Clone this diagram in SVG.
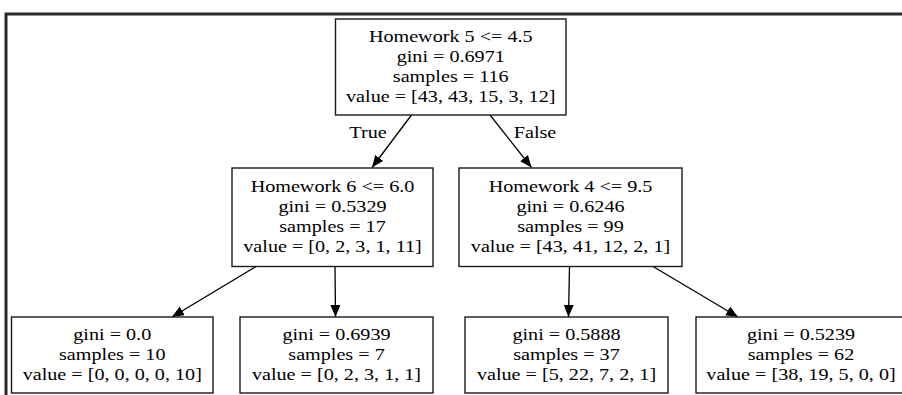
<svg xmlns="http://www.w3.org/2000/svg" width="902" height="395" viewBox="0 0 902 395">
<style>
  .frame { stroke: #2a2a2a; stroke-width: 3; fill: none; }
  .box { fill: #ffffff; stroke: #1a1a1a; stroke-width: 1.4; }
  .lbl { font-family: "Liberation Serif", "Times New Roman", serif; font-size: 16.8px; fill: #000; text-anchor: middle; }
  .edge { stroke: #000; stroke-width: 1.3; fill: none; marker-end: url(#ah); }
</style>
<defs>
  <marker id="ah" markerUnits="userSpaceOnUse" markerWidth="13" markerHeight="11" refX="12" refY="5" orient="auto">
    <path d="M0,0 L12,5 L0,10 z" fill="#000"/>
  </marker>
</defs>
<rect x="0" y="0" width="902" height="395" fill="#ffffff"/>
<path class="frame" d="M6,395 L6,14 L902,14"/>

<g id="connectors">
  <line class="edge" x1="411.5" y1="115" x2="372" y2="167.5"/>
  <line class="edge" x1="490" y1="115" x2="531.5" y2="167.5"/>
  <line class="edge" x1="256" y1="266.5" x2="172" y2="317"/>
  <line class="edge" x1="335" y1="266.5" x2="335.5" y2="317"/>
  <line class="edge" x1="569.5" y1="266.5" x2="568.5" y2="317"/>
  <line class="edge" x1="653" y1="266.5" x2="738" y2="317"/>
  <g class="lbl">
    <text transform="translate(368 138) scale(1.2 1)">True</text>
    <text transform="translate(535 138) scale(1.2 1)">False</text>
  </g>
</g>

<g id="node0">
  <rect class="box" x="335.5" y="19" width="230.5" height="96"/>
  <g class="lbl" transform="translate(450.75 0) scale(1.2 1)">
    <text x="0" y="42.5">Homework 5 &lt;= 4.5</text>
    <text x="0" y="62.5">gini = 0.6971</text>
    <text x="0" y="82.5">samples = 116</text>
    <text x="0" y="102.5">value = [43, 43, 15, 3, 12]</text>
  </g>
</g>

<g id="node1">
  <rect class="box" x="232" y="168" width="201" height="98.5"/>
  <g class="lbl" transform="translate(332.5 0) scale(1.2 1)">
    <text x="0" y="192.5">Homework 6 &lt;= 6.0</text>
    <text x="0" y="212.5">gini = 0.5329</text>
    <text x="0" y="232.5">samples = 17</text>
    <text x="0" y="252.5">value = [0, 2, 3, 1, 11]</text>
  </g>
</g>

<g id="node4">
  <rect class="box" x="459" y="168" width="223" height="98.5"/>
  <g class="lbl" transform="translate(570.5 0) scale(1.2 1)">
    <text x="0" y="192.5">Homework 4 &lt;= 9.5</text>
    <text x="0" y="212.5">gini = 0.6246</text>
    <text x="0" y="232.5">samples = 99</text>
    <text x="0" y="252.5">value = [43, 41, 12, 2, 1]</text>
  </g>
</g>

<g id="node2">
  <rect class="box" x="11.5" y="317" width="201.5" height="76"/>
  <g class="lbl" transform="translate(112.25 0) scale(1.2 1)">
    <text x="0" y="340.5">gini = 0.0</text>
    <text x="0" y="360.5">samples = 10</text>
    <text x="0" y="380.5">value = [0, 0, 0, 0, 10]</text>
  </g>
</g>

<g id="node3">
  <rect class="box" x="240" y="317" width="193" height="76"/>
  <g class="lbl" transform="translate(336.5 0) scale(1.2 1)">
    <text x="0" y="340.5">gini = 0.6939</text>
    <text x="0" y="360.5">samples = 7</text>
    <text x="0" y="380.5">value = [0, 2, 3, 1, 1]</text>
  </g>
</g>

<g id="node5">
  <rect class="box" x="465" y="317" width="203" height="76"/>
  <g class="lbl" transform="translate(566.5 0) scale(1.2 1)">
    <text x="0" y="340.5">gini = 0.5888</text>
    <text x="0" y="360.5">samples = 37</text>
    <text x="0" y="380.5">value = [5, 22, 7, 2, 1]</text>
  </g>
</g>

<g id="node6">
  <rect class="box" x="696" y="317" width="212" height="76"/>
  <g class="lbl" transform="translate(801 0) scale(1.2 1)">
    <text x="0" y="340.5">gini = 0.5239</text>
    <text x="0" y="360.5">samples = 62</text>
    <text x="0" y="380.5">value = [38, 19, 5, 0, 0]</text>
  </g>
</g>
</svg>
